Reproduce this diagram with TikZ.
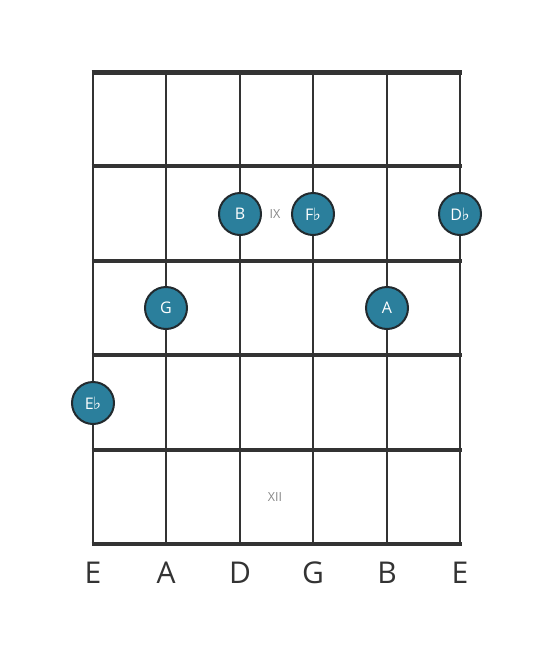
\documentclass[tikz,border=0pt]{standalone}
\usepackage{fontspec}
\setmainfont{Open Sans}
\newfontfamily\symfont{DejaVu Sans}
\newcommand{\flt}{{\symfont\fontsize{17}{17}\selectfont ♭}}
\definecolor{linec}{HTML}{333333}
\definecolor{notec}{HTML}{2B7F9C}
\definecolor{notebd}{HTML}{222A2E}
\definecolor{labc}{HTML}{888888}
\begin{document}
\begin{tikzpicture}[x=1pt,y=-1pt,
  fretline/.style={line width=4pt,color=linec},
  strline/.style={line width=2.6pt,color=linec},
  notedot/.style={circle,fill=notec,draw=notebd,line width=2pt,minimum size=42pt,inner sep=0pt,text=white,font=\fontsize{16}{16}\selectfont},
  strlab/.style={text=linec,font=\fontsize{30}{30}\selectfont},
  fretlab/.style={text=labc,font=\fontsize{12.5}{12.5}\selectfont}]
\useasboundingbox (0,0) rectangle (553,656);
\foreach \x [count=\i] in {93,166,240,313,387,460} {
  \coordinate (st\i) at (\x,72);
  \coordinate (sb\i) at (\x,544);
  \draw[strline] (st\i) -- (sb\i);
}
\foreach \y [count=\i] in {72,166,261,355,450,544} {
  \coordinate (fl\i) at (91.5,\y);
  \coordinate (fr\i) at (461.5,\y);
}
\draw[line width=5pt,color=linec] (fl1) -- (fr1);
\foreach \i in {2,...,6} { \draw[fretline] (fl\i) -- (fr\i); }
\node[fretlab] (ix) at (275,214) {IX};
\node[fretlab] (xii) at (275,497) {XII};
\node[notedot] (nB) at (240,214) {B};
\node[notedot] (nFb) at (313,214) {F\kern-0.5pt\flt};
\node[notedot] (nDb) at (460,214) {D\kern-0.5pt\flt};
\node[notedot] (nG) at (166,308) {G};
\node[notedot] (nA) at (387,308) {A};
\node[notedot] (nEb) at (93,403) {E\kern-0.5pt\flt};
\foreach \x/\t [count=\i] in {93/E,166/A,240/D,313/G,387/B,460/E} {
  \node[strlab] (lab\i) at (\x,573) {\t};
}
\end{tikzpicture}
\end{document}
